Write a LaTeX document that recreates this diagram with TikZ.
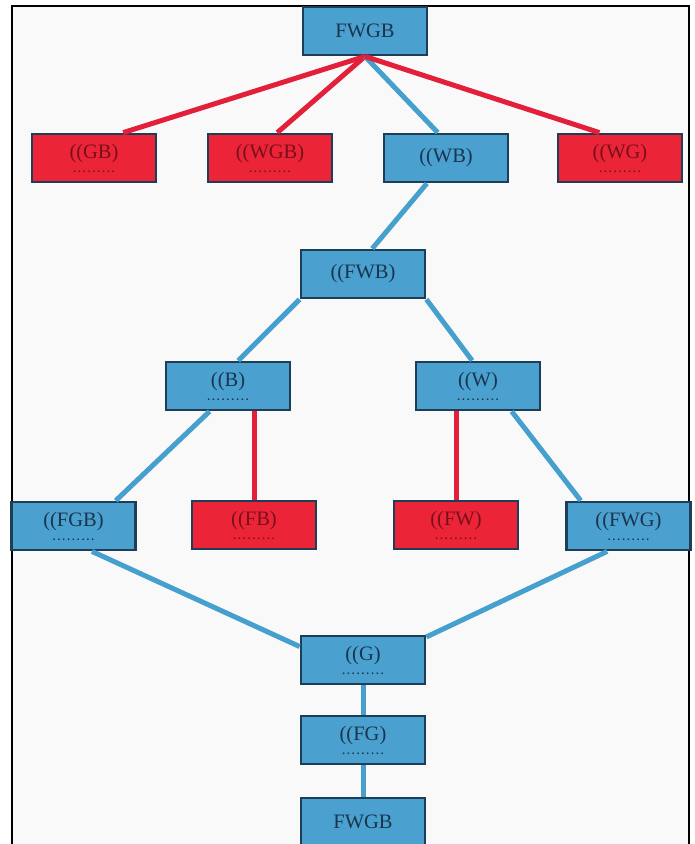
\documentclass[tikz,border=0pt]{standalone}
\usepackage{xcolor}
\usepackage{fontspec}
\usepackage{tikz}
\usetikzlibrary{shapes,positioning,calc}

\setmainfont{Liberation Serif}

\definecolor{safeblue}{RGB}{74,161,207}
\definecolor{lostred}{RGB}{236,36,56}
\definecolor{boxedge}{RGB}{30,62,88}
\definecolor{bluetext}{RGB}{26,52,78}
\definecolor{redtext}{RGB}{120,16,28}
\definecolor{movblue}{RGB}{70,160,206}
\definecolor{movred}{RGB}{226,32,58}
\definecolor{paper}{RGB}{249,249,249}

\newcommand{\dotsunder}{\\[-8pt]{\fontsize{11}{11}\selectfont\bfseries\makebox[4em]{\dotfill}}}

\begin{document}
\begin{tikzpicture}[
    x=1pt, y=-1pt,
    safe/.style={rectangle, draw=boxedge, line width=2.8pt, fill=safeblue, text=bluetext, minimum width=124pt, minimum height=48pt, inner sep=2pt, align=center, font=\fontsize{20.5}{22}\selectfont},
    lost/.style={safe, fill=lostred, text=redtext},
    okmove/.style={draw=movblue, line width=5pt},
    badmove/.style={draw=movred, line width=5pt}
]

\clip (0,0) rectangle (695,844);
\fill[paper] (12,6) rectangle (689,844);
\draw[line width=1.5pt] (12,844) -- (12,6) -- (689,6) -- (689,844);

\node[safe] (start) at (365,31) {FWGB};
\node[lost] (gb) at (94,158) {((GB)\dotsunder};
\node[lost] (wgb) at (270,158) {((WGB)\dotsunder};
\node[safe] (wb) at (446,158) {((WB)};
\node[lost] (wg) at (620,158) {((WG)\dotsunder};
\node[safe] (fwb) at (363,274) {((FWB)};
\node[safe] (b) at (228,386) {((B)\dotsunder};
\node[safe] (w) at (478,386) {((W)\dotsunder};
\node[safe] (fgb) at (73.5,526) {((FGB)\dotsunder};
\node[lost] (fb) at (254,525) {((FB)\dotsunder};
\node[lost] (fw) at (456,525) {((FW)\dotsunder};
\node[safe] (fwg) at (628.5,526) {((FWG)\dotsunder};
\node[safe] (g) at (363,660) {((G)\dotsunder};
\node[safe] (fg) at (363,740) {((FG)\dotsunder};
\node[safe] (goal) at (363,822) {FWGB};

\draw[badmove] (start.south) -- (gb.41);
\draw[badmove] (start.south) -- (wgb.74);
\draw[okmove] (start.south) -- (wb.108);
\draw[badmove] (start.south) -- (wg.129);
\draw[okmove] (wb.233) -- (fwb.70);
\draw[okmove] (fwb.south west) -- (b.68);
\draw[okmove] (fwb.south east) -- (w.103);
\draw[okmove] (b.234) -- (fgb.31);
\draw[badmove] (b.south -| fb.north) -- (fb.north);
\draw[badmove] (w.south -| fw.north) -- (fw.north);
\draw[okmove] (w.323) -- (fwg.152);
\draw[okmove] (fgb.306) -- (g.168);
\draw[okmove] (fwg.230) -- (g.20);
\draw[okmove] (g) -- (fg);
\draw[okmove] (fg) -- (goal);

\end{tikzpicture}
\end{document}
